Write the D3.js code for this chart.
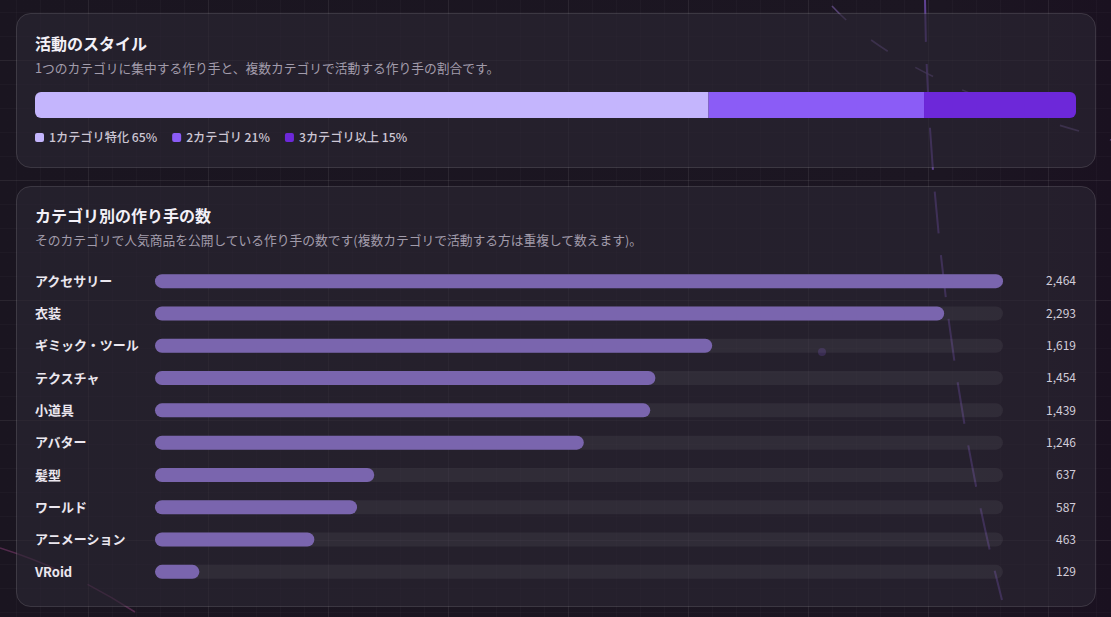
<!DOCTYPE html>
<html>
<head>
<meta charset="utf-8">
<script src="https://cdn.jsdelivr.net/npm/d3@7"></script>
<style>
  html, body { margin: 0; padding: 0; background: #1a1520; }
  svg { display: block; font-family: "Noto Sans CJK JP", "Noto Sans", sans-serif; }
</style>
</head>
<body>
<div id="chart"></div>
<script>
// --- data ---
var styleLabels = ["1カテゴリ特化", "2カテゴリ", "3カテゴリ以上"];
var styleShares = [64.7, 20.7, 14.6];
var styleColors = ["#c4b5fd", "#8b5cf6", "#6d28d9"];

var categories = ["アクセサリー", "衣装", "ギミック・ツール", "テクスチャ", "小道具", "アバター", "髪型", "ワールド", "アニメーション", "VRoid"];
var creatorCounts = [2464, 2293, 1619, 1454, 1439, 1246, 637, 587, 463, 129];

var width = 1111, height = 617;

var svg = d3.select("#chart")
    .append("svg")
    .attr("width", width)
    .attr("height", height);

var defs = svg.append("defs");

var bgGrad = defs.append("linearGradient")
    .attr("id", "bg").attr("x1", 0).attr("y1", 0).attr("x2", 1).attr("y2", 0);
bgGrad.append("stop").attr("offset", "0%").attr("stop-color", "#1a1520");
bgGrad.append("stop").attr("offset", "85%").attr("stop-color", "#1c1622");
bgGrad.append("stop").attr("offset", "100%").attr("stop-color", "#1a1120");

svg.append("rect").attr("width", width).attr("height", height).attr("fill", "url(#bg)");

// background grid
var grid = svg.append("g").attr("class", "grid");
d3.range(-32, width, 24).forEach(function(x) {
    var major = ((x - 88) % 120 + 120) % 120 === 0;
    grid.append("line")
        .attr("x1", x + 0.5).attr("x2", x + 0.5).attr("y1", 0).attr("y2", height)
        .attr("stroke", "#ffffff").attr("stroke-opacity", major ? 0.07 : 0.025);
});
d3.range(12, height, 24).forEach(function(y) {
    var major = ((y - 60) % 120 + 120) % 120 === 0;
    grid.append("line")
        .attr("y1", y + 0.5).attr("y2", y + 0.5).attr("x1", 0).attr("x2", width)
        .attr("stroke", "#ffffff").attr("stroke-opacity", major ? 0.07 : 0.025);
});

// decorative dashed strokes
var deco = svg.append("g").attr("fill", "none");
deco.append("path")
    .attr("d", "M925,0 C927,170 950,400 1002,600")
    .attr("stroke", "#7650b8").attr("stroke-width", 2).attr("stroke-opacity", 0.75)
    .attr("stroke-dasharray", "42 22");
deco.append("path")
    .attr("d", "M832,6 Q905,85 1111,140")
    .attr("stroke", "#6e5496").attr("stroke-width", 1.6).attr("stroke-opacity", 0.7)
    .attr("stroke-dasharray", "20 32");
deco.append("path")
    .attr("d", "M0,548 Q70,570 135,612")
    .attr("stroke", "#8a3f78").attr("stroke-width", 1.6).attr("stroke-opacity", 0.5)
    .attr("stroke-dasharray", "70 25");
deco.append("circle").attr("cx", 822).attr("cy", 352).attr("r", 4)
    .attr("fill", "#5d3f99").attr("fill-opacity", 0.8);

// cards
function card(y, h) {
    svg.append("rect")
        .attr("x", 16.5).attr("y", y + 0.5)
        .attr("width", 1079).attr("height", h)
        .attr("rx", 14)
        .attr("fill", "#2c2634").attr("fill-opacity", 0.62)
        .attr("stroke", "#ffffff").attr("stroke-opacity", 0.13);
}
card(13, 154);
card(186, 420);

function titles(y, title, sub) {
    svg.append("text").attr("x", 35).attr("y", y)
        .attr("fill", "#f3f0f7").attr("font-size", 16).attr("font-weight", 700)
        .text(title);
    svg.append("text").attr("x", 35).attr("y", y + 23)
        .attr("fill", "#a29cab").attr("font-size", 12.75)
        .text(sub);
}
titles(50, "活動のスタイル", "1つのカテゴリに集中する作り手と、複数カテゴリで活動する作り手の割合です。");
titles(222, "カテゴリ別の作り手の数", "そのカテゴリで人気商品を公開している作り手の数です(複数カテゴリで活動する方は重複して数えます)。");

// --- stacked share bar ---
var total = d3.sum(styleShares);
var sx = d3.scaleLinear().domain([0, total]).range([35, 1076]);
var cum = d3.cumsum(styleShares);
var stackData = styleShares.map(function(v, i) {
    return { label: styleLabels[i], value: v, start: cum[i] - v, end: cum[i], color: styleColors[i] };
});

defs.append("clipPath").attr("id", "stackclip")
    .append("rect").attr("x", sx(0)).attr("y", 92)
    .attr("width", sx(total) - sx(0)).attr("height", 26).attr("rx", 6);

svg.append("g").attr("clip-path", "url(#stackclip)")
    .selectAll("rect")
    .data(stackData)
    .enter().append("rect")
    .attr("x", function(d) { return sx(d.start); })
    .attr("y", 92)
    .attr("width", function(d) { return sx(d.end) - sx(d.start); })
    .attr("height", 26)
    .attr("fill", function(d) { return d.color; });

// legend
var lx = 35;
stackData.forEach(function(d) {
    svg.append("rect").attr("x", lx).attr("y", 133).attr("width", 9).attr("height", 9)
        .attr("rx", 2).attr("fill", d.color);
    var t = svg.append("text").attr("x", lx + 14).attr("y", 142)
        .attr("fill", "#cdc7d4").attr("font-size", 12.2).attr("font-weight", 500)
        .text(d.label + " " + Math.round(d.value) + "%");
    lx = lx + 14 + t.node().getComputedTextLength() + 15;
});

// --- category bars ---
var x = d3.scaleLinear().domain([0, d3.max(creatorCounts)]).range([155, 1003]);
var y = d3.scaleBand().domain(categories).range([265, 588]);
var barH = 14;

var rows = svg.selectAll(".row")
    .data(categories.map(function(c, i) { return { cat: c, value: creatorCounts[i] }; }))
    .enter().append("g")
    .attr("class", "row")
    .attr("transform", function(d) { return "translate(0," + (y(d.cat) + y.bandwidth() / 2) + ")"; });

rows.append("rect")
    .attr("class", "track")
    .attr("x", x(0)).attr("y", -barH / 2)
    .attr("width", x.range()[1] - x(0)).attr("height", barH)
    .attr("rx", 7)
    .attr("fill", "#ffffff").attr("fill-opacity", 0.055);

rows.append("rect")
    .attr("class", "bar")
    .attr("x", x(0)).attr("y", -barH / 2)
    .attr("width", function(d) { return x(d.value) - x(0); })
    .attr("height", barH)
    .attr("rx", 7)
    .attr("fill", "#7a65ae");

rows.append("text")
    .attr("x", 35).attr("dy", "0.36em")
    .attr("fill", "#ebe7ef").attr("font-size", 13).attr("font-weight", 600)
    .text(function(d) { return d.cat; });

rows.append("text")
    .attr("x", 1076).attr("dy", "0.36em")
    .attr("text-anchor", "end")
    .attr("fill", "#d2ccd9").attr("font-size", 12)
    .text(function(d) { return d3.format(",")(d.value); });
</script>
</body>
</html>
